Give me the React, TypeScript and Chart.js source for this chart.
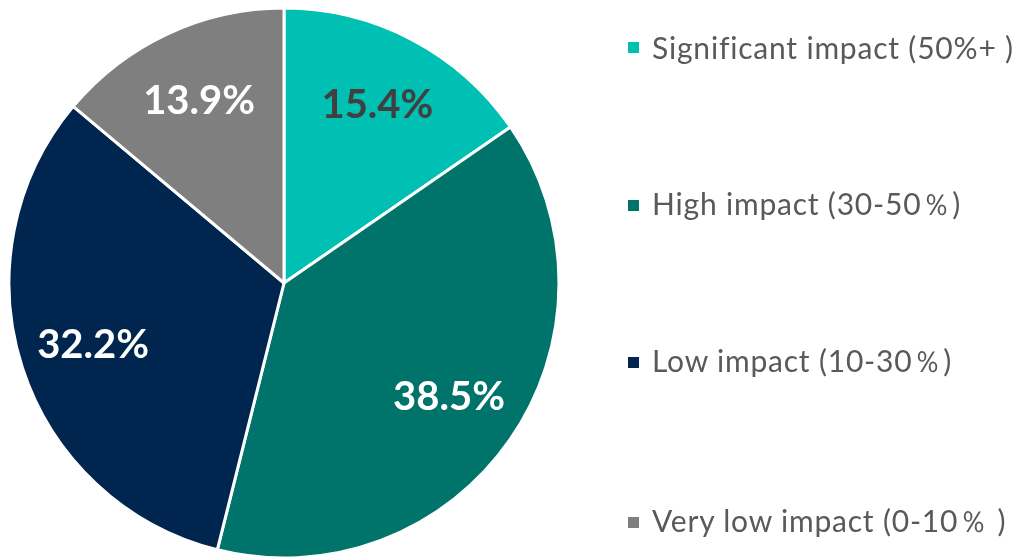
import React, { useEffect, useRef } from "react";
import { Chart, registerables } from "chart.js";

Chart.register(...registerables);

const categories = [
  "Significant impact (50%+ )",
  "High impact (30-50％)",
  "Low impact (10-30％)",
  "Very low impact (0-10％ )",
];
const shares = [15.4, 38.5, 32.2, 13.9];
const sliceColors = ["#00BFB3", "#00746B", "#00264F", "#7F7F7F"];
const labelColors = ["#404040", "#FFFFFF", "#FFFFFF", "#FFFFFF"];

const FONT = "Lato, 'Open Sans', sans-serif";

const labelPlugin = {
  id: "sliceLabels",
  afterDatasetsDraw(chart: any) {
    const ctx = chart.ctx;
    const meta = chart.getDatasetMeta(0);
    ctx.save();
    ctx.font = `bold 40px ${FONT}`;
    ctx.textAlign = "center";
    ctx.textBaseline = "middle";
    meta.data.forEach((arc: any, i: number) => {
      const p = arc.getProps(["x", "y", "startAngle", "endAngle", "outerRadius"], true);
      const mid = (p.startAngle + p.endAngle) / 2;
      const r = p.outerRadius * 0.73;
      const x = p.x + Math.cos(mid) * r;
      const y = p.y + Math.sin(mid) * r;
      ctx.fillStyle = labelColors[i];
      ctx.fillText(shares[i].toFixed(1) + "%", x, y);
    });
    ctx.restore();
  },
};

export default function App() {
  const ref = useRef<HTMLCanvasElement | null>(null);

  useEffect(() => {
    document.body.style.margin = "0";
    const chart = new Chart(ref.current as HTMLCanvasElement, {
      type: "pie",
      data: {
        labels: categories,
        datasets: [
          {
            data: shares,
            backgroundColor: sliceColors,
            borderColor: "#FFFFFF",
            borderWidth: 3,
          },
        ],
      },
      options: {
        animation: false,
        responsive: false,
        maintainAspectRatio: false,
        radius: 275,
        layout: { padding: { left: 8, right: 468, top: 8, bottom: 0 } },
        plugins: {
          legend: { display: false },
          tooltip: { enabled: false },
        },
      } as any,
      plugins: [labelPlugin],
    });
    return () => chart.destroy();
  }, []);

  const legendTops = [47, 205, 362, 522];

  return (
    <div style={{ position: "fixed", left: 0, top: 0, width: 1028, height: 558, background: "#fff", overflow: "hidden" }}>
      <canvas ref={ref} width={1028} height={558} style={{ position: "absolute", left: 0, top: 0 }} />
      {categories.map((c, i) => (
        <div
          key={c}
          style={{
            position: "absolute",
            left: 628,
            top: legendTops[i] - 20,
            height: 40,
            display: "flex",
            alignItems: "center",
            fontFamily: FONT,
            fontSize: 30,
            letterSpacing: 0.8,
            color: "#595959",
            whiteSpace: "nowrap",
          }}
        >
          <span style={{ display: "inline-block", width: 11, height: 11, background: sliceColors[i], marginRight: 13 }} />
          <span>{c}</span>
        </div>
      ))}
    </div>
  );
}
